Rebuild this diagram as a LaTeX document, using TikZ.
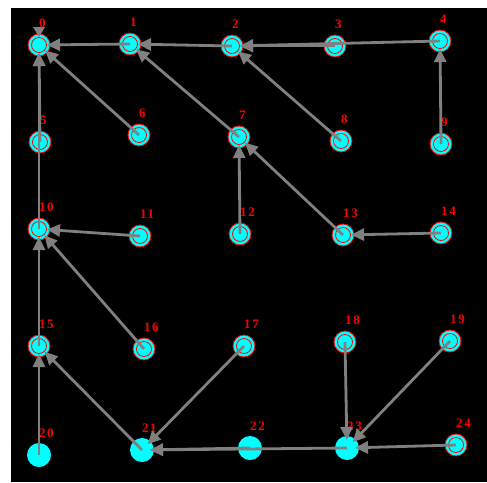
\documentclass[tikz,border=0pt]{standalone}
\usepackage{fontspec}
\newfontfamily\lblfont{Liberation Serif}[LetterSpace=12]
\usetikzlibrary{arrows.meta}
\definecolor{edgegray}{RGB}{128,128,128}
\definecolor{nodecyan}{RGB}{0,255,255}
\definecolor{lblred}{RGB}{255,0,0}
\tikzset{
  ringnode/.style={circle, minimum size=22pt, inner sep=0pt, fill=nodecyan,
    draw=lblred, line width=0.8pt,
    path picture={\draw[lblred,line width=0.8pt] (path picture bounding box.center) circle (7.5pt);}},
  plainnode/.style={circle, minimum size=24pt, inner sep=0pt, fill=nodecyan},
  idlabel/.style={anchor=base west, inner sep=0pt, text=lblred,
    font=\lblfont\bfseries\fontsize{13}{13}\selectfont},
  link/.style={draw=edgegray, line width=2.8pt, shorten >=8pt,
    -{Triangle[length=13pt,width=12pt]}, edgegray}
}
\begin{document}
\begin{tikzpicture}[x=1pt,y=-1pt]
  % canvas
  \fill[white] (0,0) rectangle (487,482);
  \fill[black] (11,8) rectangle (487,482);
  \useasboundingbox (0,0) rectangle (487,482);

  % sensor nodes
  \foreach \n/\x/\y in {0/39/45, 1/130/44, 2/232/46, 3/335/46, 4/440/41,
      5/40/142, 6/139/135, 7/239/137, 8/341/141, 9/441/144,
      10/39/229, 11/140/236, 12/240/234, 13/343/235, 14/441/233,
      15/39/346, 16/144/349, 17/244/346, 18/345/342, 19/450/341, 24/456/445}
    {\node[ringnode] (n\n) at (\x,\y) {};
     \node[idlabel] (l\n) at (\x,\y-18) {\n};}
  \foreach \n/\x/\y in {20/39/455, 21/142/450, 22/250/448, 23/347/448}
    {\node[plainnode] (n\n) at (\x,\y) {};
     \node[idlabel] (l\n) at (\x,\y-18) {\n};}

  % sink marker above node 0
  \fill[edgegray] (33,27) -- (45,27) -- (39,37) -- cycle;

  % routing tree
  \foreach \s/\t in {1/0, 2/1, 3/2, 4/2, 5/0, 6/0, 7/1, 8/2, 9/4, 10/0,
      11/10, 12/7, 13/7, 14/13, 15/10, 16/10, 17/21, 18/23, 19/23,
      20/15, 21/15, 22/21, 23/21, 24/23}
    \draw[link] (n\s.center) -- (n\t.center);
\end{tikzpicture}
\end{document}
